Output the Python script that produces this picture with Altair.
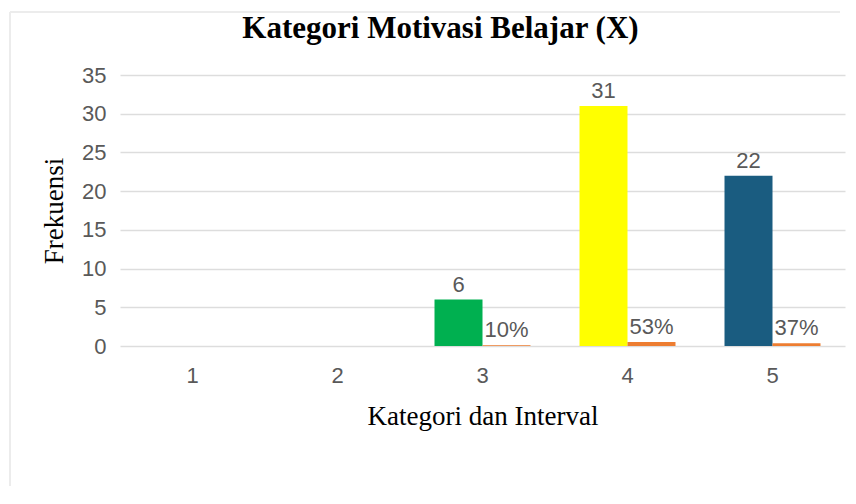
import altair as alt
import pandas as pd

categories = ["1", "2", "3", "4", "5"]
frekuensi = [0, 0, 6, 31, 22]
persen = [0.0, 0.0, 0.10, 0.53, 0.37]
persen_labels = ["", "", "10%", "53%", "37%"]
y_ticks = [0, 5, 10, 15, 20, 25, 30, 35]
freq_colors = ["#00B050", "#00B050", "#00B050", "#FFFF00", "#1A5C80"]
pct_color = "#ED7D31"

rows = []
for c, f, p, pl, fc in zip(categories, frekuensi, persen, persen_labels, freq_colors):
    if f > 0:
        rows.append({"kat": c, "series": "frek", "value": f, "label": str(f), "key": c + "-frek"})
    if p > 0:
        rows.append({"kat": c, "series": "pct", "value": p, "label": pl, "key": c + "-pct"})
df = pd.DataFrame(rows)
keys = list(df["key"])
colors = [freq_colors[categories.index(k.split("-")[0])] if k.endswith("frek") else pct_color for k in keys]

x_scale = alt.Scale(domain=categories, paddingInner=0.338, paddingOuter=0.169)
x_enc = alt.X("kat:N", scale=x_scale,
              axis=alt.Axis(title="Kategori dan Interval", labelAngle=0, domain=False, ticks=False,
                            labelPadding=19, titlePadding=17))
xo_enc = alt.XOffset("series:N", scale=alt.Scale(domain=["frek", "pct"], paddingInner=0, paddingOuter=0))
y_enc = alt.Y("value:Q", scale=alt.Scale(domain=[0, 35], nice=False),
              axis=alt.Axis(title="Frekuensi", values=y_ticks, tickCount=8, labelOverlap=False,
                            domain=False, ticks=False, labelPadding=14, titlePadding=13,
                            grid=True, gridColor="#DDDDDD", gridWidth=1.5))

bars = alt.Chart(df).mark_bar().encode(
    x=x_enc, xOffset=xo_enc, y=y_enc,
    color=alt.Color("key:N", scale=alt.Scale(domain=keys, range=colors), legend=None),
)
texts = alt.Chart(df).mark_text(baseline="bottom", dy=-3, font="Liberation Sans", fontSize=22,
                                color="#595959").encode(
    x=alt.X("kat:N", scale=x_scale),
    xOffset=xo_enc, y=alt.Y("value:Q"), text="label:N",
)
frame = alt.Chart(alt.Data(values=[{}])).mark_rule(color="#ECECEC", strokeWidth=2)
frame_left = frame.encode(x=alt.value(-110), y=alt.value(-63), y2=alt.value(420))
frame_top = frame.encode(x=alt.value(-110), x2=alt.value(720), y=alt.value(-63))

chart = alt.layer(frame_left, frame_top, bars, texts).properties(
    width=725, height=271,
    background="#FFFFFF",
    title=alt.TitleParams("Kategori Motivasi Belajar (X)", font="Liberation Serif", fontSize=31,
                          fontWeight="bold", color="#000000", anchor="middle", dx=-42, offset=-34),
    autosize=alt.AutoSizeParams(type="none"),
    padding={"left": 112, "top": 67, "right": 3, "bottom": 140},
).configure_view(stroke=None).configure_axis(
    labelFont="Liberation Sans", labelFontSize=22, labelColor="#595959",
    titleFont="Liberation Serif", titleFontSize=27, titleFontWeight="normal", titleColor="#000000",
)

chart.save("out.html", embed_options={"renderer": "svg", "actions": False})
